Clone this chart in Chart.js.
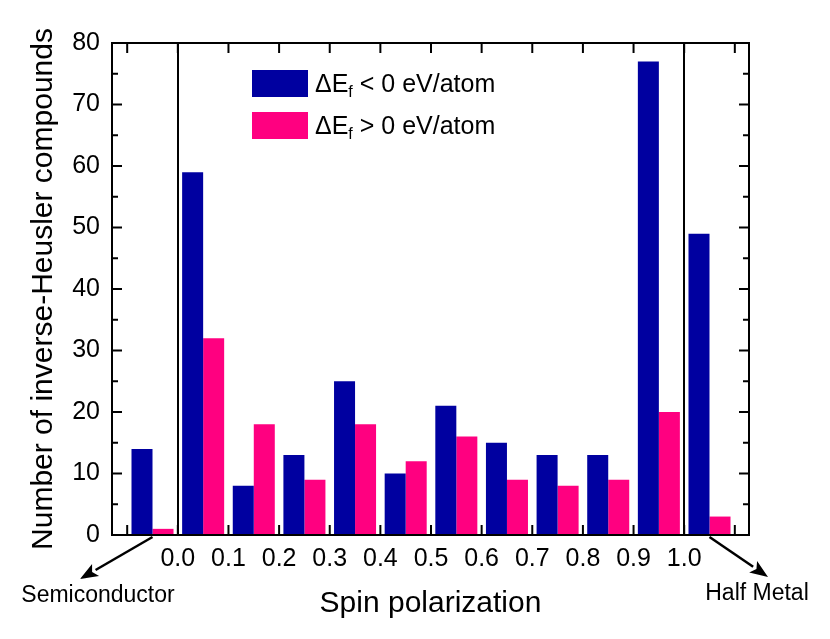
<!DOCTYPE html>
<html>
<head>
<meta charset="utf-8">
<script src="https://cdn.jsdelivr.net/npm/chart.js@4.4.0/dist/chart.umd.min.js"></script>
<style>
  html, body { margin: 0; padding: 0; background: #fff; }
</style>
</head>
<body>
<canvas id="cs" width="830" height="639"></canvas>
<script>
// bin centres on the spin polarization axis (semiconductor bin left of 0, half metal bin right of 1)
var binCenters = [-0.05, 0.05, 0.15, 0.25, 0.35, 0.45, 0.55, 0.65, 0.75, 0.85, 0.95, 1.05];
var stableCounts = [14, 59, 8, 13, 25, 10, 21, 15, 13, 13, 77, 49];   // dEf < 0
var unstableCounts = [1, 32, 18, 9, 18, 12, 16, 9, 8, 9, 20, 3];       // dEf > 0
var seriesSigns = ["<", ">"];
var seriesColors = ["#0000A0", "#FF0080"];
var yTickValues = [0, 10, 20, 30, 40, 50, 60, 70, 80];

var FONT = '"Liberation Sans", Arial, Helvetica, sans-serif';
Chart.defaults.font.family = FONT;
Chart.defaults.color = "#000";

function line(c, x1, y1, x2, y2) {
  c.beginPath(); c.moveTo(x1, y1); c.lineTo(x2, y2); c.stroke();
}

function arrow(c, x1, y1, x2, y2) {
  var ang = Math.atan2(y2 - y1, x2 - x1), len = 18, half = 7;
  var bx = x2 - len * Math.cos(ang), by = y2 - len * Math.sin(ang);
  line(c, x1, y1, bx, by);
  c.beginPath();
  c.moveTo(x2, y2);
  c.lineTo(bx + half * Math.sin(ang), by - half * Math.cos(ang));
  c.lineTo(bx + 4 * Math.cos(ang), by + 4 * Math.sin(ang));
  c.lineTo(bx - half * Math.sin(ang), by + half * Math.cos(ang));
  c.closePath(); c.fill();
}

var decor = {
  id: "decor",
  afterDatasetsDraw: function (chart) {
    var c = chart.ctx, a = chart.chartArea, xs = chart.scales.x, ys = chart.scales.y;
    c.save();
    c.strokeStyle = "#000"; c.fillStyle = "#000"; c.lineWidth = 2;

    // frame
    c.strokeRect(a.left, a.top, a.right - a.left, a.bottom - a.top);

    // inward y ticks, major + minor
    ys.ticks.forEach(function (t, i) {
      var py = ys.getPixelForValue(t.value);
      line(c, a.left, py, a.left + 10, py);
      line(c, a.right, py, a.right - 10, py);
      if (i > 0) {
        var pm = ys.getPixelForValue(t.value - 5);
        line(c, a.left, pm, a.left + 6, pm);
        line(c, a.right, pm, a.right - 6, pm);
      }
    });

    // inward x ticks
    xs.ticks.forEach(function (t) {
      var px = xs.getPixelForValue(t.value);
      line(c, px, a.bottom, px, a.bottom - 10);
      line(c, px, a.top, px, a.top + 10);
    });

    // dividers at 0.0 and 1.0
    [0, 1].forEach(function (v) {
      var px = Math.round(xs.getPixelForValue(v));
      line(c, px, a.top, px, a.bottom);
    });

    // arrows to the two end categories
    c.lineWidth = 2.5;
    arrow(c, xs.getPixelForValue(binCenters[0]), a.bottom + 2, 80, 579);
    arrow(c, xs.getPixelForValue(binCenters[binCenters.length - 1]), a.bottom + 2, 768, 577);

    c.textAlign = "center"; c.textBaseline = "middle";
    c.font = "23px " + FONT;
    c.fillText("Semiconductor", 98, 596);
    c.fillText("Half Metal", 757, 594);

    // axis titles
    c.font = "30px " + FONT;
    c.fillText("Spin polarization", (a.left + a.right) / 2, 604);
    c.save();
    c.translate(44, (a.top + a.bottom) / 2);
    c.rotate(-Math.PI / 2);
    c.fillText("Number of inverse-Heusler compounds", 0, 0);
    c.restore();

    // legend with subscript
    c.textAlign = "left"; c.textBaseline = "alphabetic";
    chart.data.datasets.forEach(function (ds, i) {
      var top = 70 + i * 42;
      c.fillStyle = ds.backgroundColor;
      c.fillRect(252, top, 56, 27);
      c.fillStyle = "#000";
      var x = 315, base = top + 22;
      c.font = "25px " + FONT;
      c.fillText("\u0394E", x, base);
      x += c.measureText("\u0394E").width;
      c.font = "16px " + FONT;
      c.fillText("f", x, base + 5);
      x += c.measureText("f").width;
      c.font = "25px " + FONT;
      c.fillText(" " + seriesSigns[i] + " 0 eV/atom", x, base);
    });
    c.restore();
  }
};

new Chart(document.getElementById("cs"), {
  type: "bar",
  data: {
    labels: binCenters,
    datasets: [
      { label: "\u0394Ef < 0 eV/atom", data: stableCounts, backgroundColor: seriesColors[0] },
      { label: "\u0394Ef > 0 eV/atom", data: unstableCounts, backgroundColor: seriesColors[1] }
    ]
  },
  options: {
    responsive: false,
    animation: false,
    layout: { padding: { top: 43, right: 81, left: 0, bottom: 0 } },
    datasets: { bar: { categoryPercentage: 0.83, barPercentage: 1.0 } },
    plugins: { legend: { display: false }, tooltip: { enabled: false } },
    scales: {
      x: {
        type: "linear",
        offset: false,
        min: -0.13,
        max: 1.128,
        grid: { display: false, drawTicks: false },
        border: { display: false },
        afterFit: function (s) { s.height = 104; },
        ticks: {
          stepSize: 0.1,
          includeBounds: false,
          autoSkip: false,
          maxRotation: 0,
          padding: 9,
          font: { size: 25 },
          callback: function (v) { return (v > -0.01 && v < 1.01) ? Number(v).toFixed(1) : ""; }
        }
      },
      y: {
        min: yTickValues[0],
        max: yTickValues[yTickValues.length - 1],
        grid: { display: false, drawTicks: false },
        border: { display: false },
        afterFit: function (s) { s.width = 112; },
        afterBuildTicks: function (s) { s.ticks = yTickValues.map(function (v) { return { value: v }; }); },
        ticks: { padding: 12, font: { size: 25 } }
      }
    }
  },
  plugins: [decor]
});
</script>
</body>
</html>
